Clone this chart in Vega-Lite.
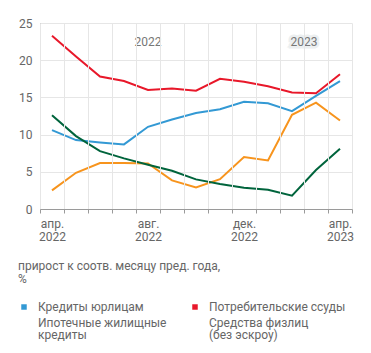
{
  "$schema": "https://vega.github.io/schema/vega-lite/v6.json",
  "width": 312,
  "height": 186,
  "autosize": {"type": "none"},
  "padding": {"left": 40, "top": 23, "right": 19, "bottom": 144},
  "config": {
    "view": {"stroke": null},
    "font": "Roboto",
    "axis": {"labelFont": "Roboto", "labelColor": "#666666", "labelFontSize": 12, "gridColor": "#e6e6e6", "domainColor": "#9a9a9a", "tickColor": "#9a9a9a", "title": null}
  },
  "datasets": {
    "series": [
      {"m": "апр. 2022", "s": "Потребительские ссуды", "v": 23.3},
      {"m": "май 2022", "s": "Потребительские ссуды", "v": 20.5},
      {"m": "июн. 2022", "s": "Потребительские ссуды", "v": 17.8},
      {"m": "июл. 2022", "s": "Потребительские ссуды", "v": 17.2},
      {"m": "авг. 2022", "s": "Потребительские ссуды", "v": 16.0},
      {"m": "сен. 2022", "s": "Потребительские ссуды", "v": 16.2},
      {"m": "окт. 2022", "s": "Потребительские ссуды", "v": 15.9},
      {"m": "ноя. 2022", "s": "Потребительские ссуды", "v": 17.5},
      {"m": "дек. 2022", "s": "Потребительские ссуды", "v": 17.1},
      {"m": "янв. 2023", "s": "Потребительские ссуды", "v": 16.5},
      {"m": "фев. 2023", "s": "Потребительские ссуды", "v": 15.65},
      {"m": "мар. 2023", "s": "Потребительские ссуды", "v": 15.55},
      {"m": "апр. 2023", "s": "Потребительские ссуды", "v": 18.1},
      {"m": "апр. 2022", "s": "Кредиты юрлицам", "v": 10.6},
      {"m": "май 2022", "s": "Кредиты юрлицам", "v": 9.26},
      {"m": "июн. 2022", "s": "Кредиты юрлицам", "v": 8.94},
      {"m": "июл. 2022", "s": "Кредиты юрлицам", "v": 8.68},
      {"m": "авг. 2022", "s": "Кредиты юрлицам", "v": 11.05},
      {"m": "сен. 2022", "s": "Кредиты юрлицам", "v": 12.03},
      {"m": "окт. 2022", "s": "Кредиты юрлицам", "v": 12.9},
      {"m": "ноя. 2022", "s": "Кредиты юрлицам", "v": 13.4},
      {"m": "дек. 2022", "s": "Кредиты юрлицам", "v": 14.4},
      {"m": "янв. 2023", "s": "Кредиты юрлицам", "v": 14.2},
      {"m": "фев. 2023", "s": "Кредиты юрлицам", "v": 13.15},
      {"m": "мар. 2023", "s": "Кредиты юрлицам", "v": 15.2},
      {"m": "апр. 2023", "s": "Кредиты юрлицам", "v": 17.2},
      {"m": "апр. 2022", "s": "Ипотечные жилищные кредиты", "v": 2.5},
      {"m": "май 2022", "s": "Ипотечные жилищные кредиты", "v": 4.87},
      {"m": "июн. 2022", "s": "Ипотечные жилищные кредиты", "v": 6.17},
      {"m": "июл. 2022", "s": "Ипотечные жилищные кредиты", "v": 6.17},
      {"m": "авг. 2022", "s": "Ипотечные жилищные кредиты", "v": 6.13},
      {"m": "сен. 2022", "s": "Ипотечные жилищные кредиты", "v": 3.85},
      {"m": "окт. 2022", "s": "Ипотечные жилищные кредиты", "v": 2.9},
      {"m": "ноя. 2022", "s": "Ипотечные жилищные кредиты", "v": 4.0},
      {"m": "дек. 2022", "s": "Ипотечные жилищные кредиты", "v": 6.98},
      {"m": "янв. 2023", "s": "Ипотечные жилищные кредиты", "v": 6.53},
      {"m": "фев. 2023", "s": "Ипотечные жилищные кредиты", "v": 12.66},
      {"m": "мар. 2023", "s": "Ипотечные жилищные кредиты", "v": 14.3},
      {"m": "апр. 2023", "s": "Ипотечные жилищные кредиты", "v": 11.9},
      {"m": "апр. 2022", "s": "Средства физлиц (без эскроу)", "v": 12.6},
      {"m": "май 2022", "s": "Средства физлиц (без эскроу)", "v": 9.8},
      {"m": "июн. 2022", "s": "Средства физлиц (без эскроу)", "v": 7.78},
      {"m": "июл. 2022", "s": "Средства физлиц (без эскроу)", "v": 6.8},
      {"m": "авг. 2022", "s": "Средства физлиц (без эскроу)", "v": 5.95},
      {"m": "сен. 2022", "s": "Средства физлиц (без эскроу)", "v": 5.14},
      {"m": "окт. 2022", "s": "Средства физлиц (без эскроу)", "v": 3.98},
      {"m": "ноя. 2022", "s": "Средства физлиц (без эскроу)", "v": 3.35},
      {"m": "дек. 2022", "s": "Средства физлиц (без эскроу)", "v": 2.86},
      {"m": "янв. 2023", "s": "Средства физлиц (без эскроу)", "v": 2.6},
      {"m": "фев. 2023", "s": "Средства физлиц (без эскроу)", "v": 1.79},
      {"m": "мар. 2023", "s": "Средства физлиц (без эскроу)", "v": 5.23},
      {"m": "апр. 2023", "s": "Средства физлиц (без эскроу)", "v": 8.1}
    ],
    "shade": [
      {"m": "янв. 2023"}, {"m": "фев. 2023"}, {"m": "мар. 2023"}, {"m": "апр. 2023"}
    ],
    "years": [
      {"m": "авг. 2022", "t": "2022", "v": 22.4, "bg": "#ffffff", "dx": 12},
      {"m": "фев. 2023", "t": "2023", "v": 22.4, "bg": "#eceff0", "dx": 24}
    ]
  },
  "encoding": {
    "x": {
      "field": "m",
      "type": "ordinal",
      "scale": {"type": "band", "paddingInner": 0, "paddingOuter": 0, "domain": ["апр. 2022", "май 2022", "июн. 2022", "июл. 2022", "авг. 2022", "сен. 2022", "окт. 2022", "ноя. 2022", "дек. 2022", "янв. 2023", "фев. 2023", "мар. 2023", "апр. 2023"]},
      "axis": {
        "tickBand": "extent",
        "grid": true,
        "tickSize": 4,
        "labelAngle": 0,
        "labelPadding": 5,
        "labelLineHeight": 13,
        "labelExpr": "indexof(['апр. 2022','авг. 2022','дек. 2022','апр. 2023'], datum.value) >= 0 ? split(datum.value, ' ') : ''"
      }
    },
    "y": {
      "field": "v",
      "type": "quantitative",
      "scale": {"domain": [0, 25], "nice": false},
      "axis": {"values": [0, 5, 10, 15, 20, 25], "grid": true, "ticks": false, "labelPadding": 8, "labelOverlap": false}
    }
  },
  "layer": [
    {
      "data": {"name": "shade"},
      "mark": {"type": "rect", "color": "#dfe4e6", "opacity": 0.6},
      "encoding": {
        "y": {"datum": 25, "type": "quantitative"},
        "y2": {"datum": 0}
      }
    },
    {
      "data": {"name": "series"},
      "mark": {"type": "line", "strokeWidth": 2},
      "encoding": {
        "color": {
          "field": "s",
          "type": "nominal",
          "scale": {
            "domain": ["Кредиты юрлицам", "Потребительские ссуды", "Ипотечные жилищные кредиты", "Средства физлиц (без эскроу)"],
            "range": ["#3399d4", "#e8182a", "#f7941d", "#00643c"]
          },
          "legend": {
            "orient": "none",
            "direction": "horizontal",
            "legendX": -22,
            "legendY": 238,
            "columns": 2,
            "title": ["прирост к соотв. месяцу пред. года,", "%"],
            "titleFont": "Roboto",
            "titleFontWeight": "normal",
            "titleFontSize": 12,
            "titleColor": "#666666",
            "titleLimit": 320,
            "titleLineHeight": 13,
            "titlePadding": 15,
            "labelFont": "Roboto",
            "labelFontSize": 12,
            "labelColor": "#666666",
            "labelLimit": 200,
            "labelOffset": 8,
            "symbolType": "square",
            "symbolSize": 30,
            "columnPadding": 22,
            "rowPadding": 4,
            "labelExpr": "datum.label == 'Ипотечные жилищные кредиты' ? ['Ипотечные жилищные','кредиты'] : datum.label == 'Средства физлиц (без эскроу)' ? ['Средства физлиц','(без эскроу)'] : datum.label",
            "encode": {
              "symbols": {
                "update": {
                  "fill": {"scale": "color", "field": "value"},
                  "strokeWidth": {"value": 0},
                  "opacity": {"signal": "datum.value == 'Кредиты юрлицам' || datum.value == 'Потребительские ссуды' ? 1 : 0"}
                }
              },
              "labels": {
                "update": {
                  "lineHeight": {"value": 12}
                }
              }
            }
          }
        }
      }
    },
    {
      "data": {"name": "years"},
      "mark": {"type": "text", "fontSize": 12, "baseline": "middle", "strokeWidth": 5, "align": "center"},
      "encoding": {
        "text": {"field": "t"},
        "stroke": {"field": "bg", "type": "nominal", "scale": null},
        "fill": {"field": "bg", "type": "nominal", "scale": null},
        "xOffset": {"field": "dx", "type": "quantitative", "scale": null}
      }
    },
    {
      "data": {"name": "years"},
      "mark": {"type": "text", "fontSize": 12, "baseline": "middle", "color": "#777777", "align": "center"},
      "encoding": {
        "text": {"field": "t"},
        "xOffset": {"field": "dx", "type": "quantitative", "scale": null}
      }
    }
  ]
}
